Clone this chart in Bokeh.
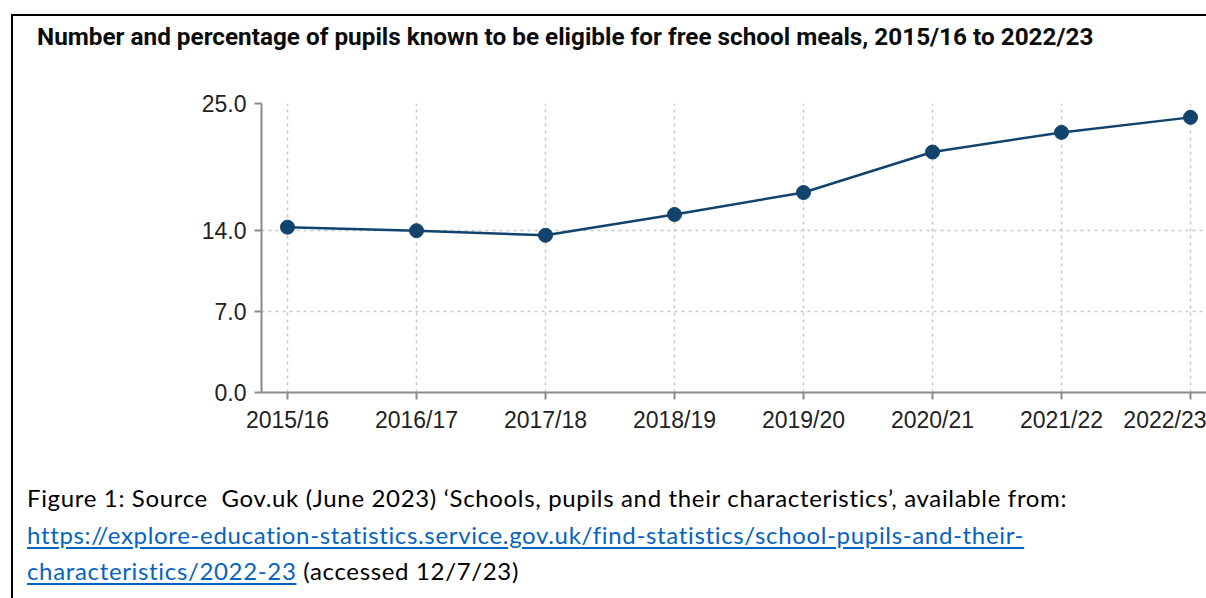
from bokeh.plotting import figure
from bokeh.models import Range1d, FixedTicker, NumeralTickFormatter, Div
from bokeh.layouts import column
from bokeh.embed import file_html
from bokeh.resources import INLINE

# ---- data ----
years = ["2015/16", "2016/17", "2017/18", "2018/19", "2019/20", "2020/21", "2021/22", "2022/23"]
fsm_pct = [14.3, 14.0, 13.6, 15.4, 17.3, 20.8, 22.5, 23.8]
y_ticks = [0.0, 7.0, 14.0, 25.0]

title_text = "Number and percentage of pupils known to be eligible for free school meals, 2015/16 to 2022/23"
caption_1 = "Figure 1: Source&nbsp; Gov.uk (June 2023) \u2018Schools, pupils and their characteristics\u2019, available from:"
caption_2 = "https://explore-education-statistics.service.gov.uk/find-statistics/school-pupils-and-their-"
caption_3a = "characteristics/2022-23"
caption_3b = "(accessed 12/7/23)"

xs = list(range(len(years)))

W, H = 1206, 598
OFF_X, OFF_Y = 13, 16          # page frame offset (margin + border)
CW = W - OFF_X                 # content width
FIG_TOP = 60                   # canvas y where figure starts
FIG_H = 400

p = figure(width=CW, height=FIG_H, output_backend="svg", toolbar_location=None,
           x_range=Range1d(-0.2016, 7.124), y_range=Range1d(0, 25),
           min_border_left=261 - OFF_X, min_border_right=0,
           min_border_top=103 - FIG_TOP, min_border_bottom=FIG_TOP + FIG_H - 392)
p.outline_line_color = None
p.background_fill_color = "white"
p.border_fill_color = "white"

AX = "#8a8a8a"
TXT = "#222222"
# y axis
p.yaxis.ticker = FixedTicker(ticks=y_ticks)
p.yaxis.formatter = NumeralTickFormatter(format="0.0")
p.yaxis.axis_line_color = AX
p.yaxis.axis_line_width = 2
p.yaxis.major_tick_line_color = AX
p.yaxis.major_tick_line_width = 2
p.yaxis.major_tick_out = 7
p.yaxis.major_tick_in = 0
p.yaxis.minor_tick_line_color = None
p.yaxis.major_label_text_font = "Liberation Sans"
p.yaxis.major_label_text_font_size = "23px"
p.yaxis.major_label_text_color = TXT
p.yaxis.major_label_standoff = 8

# x axis
p.xaxis.ticker = FixedTicker(ticks=xs)
p.xaxis.major_label_overrides = {i: y for i, y in zip(xs, years)}
p.xaxis.axis_line_color = AX
p.xaxis.axis_line_width = 2
p.xaxis.major_tick_line_color = AX
p.xaxis.major_tick_line_width = 2
p.xaxis.major_tick_out = 7
p.xaxis.major_tick_in = 0
p.xaxis.minor_tick_line_color = None
p.xaxis.major_label_text_font = "Liberation Sans"
p.xaxis.major_label_text_font_size = "23px"
p.xaxis.major_label_text_color = TXT
p.xaxis.major_label_standoff = 7

# grids
for g in (p.xgrid, p.ygrid):
    g.grid_line_color = "#c8c8c8"
    g.grid_line_dash = "3 4"
    g.grid_line_width = 1.5
p.xgrid.ticker = FixedTicker(ticks=xs)
p.ygrid.ticker = FixedTicker(ticks=y_ticks)

# series
BLUE = "#12436D"
p.line(xs, fsm_pct, line_color=BLUE, line_width=2.5)
p.scatter(xs, fsm_pct, size=14, fill_color=BLUE, line_color=BLUE)

# title
title_div = Div(
    text=(f'<div style="font-family: Roboto, sans-serif; font-weight: bold; font-size: 24.3px; '
          f'line-height: 24px; color: #0b0c0c; white-space: nowrap; padding-left: {37 - OFF_X}px; '
          f'padding-top: 9px;">{title_text}</div>'),
    width=CW, height=FIG_TOP - OFF_Y, margin=0)

LINK = "#0563C1"
cap_html = (
    f'<div style="font-family: Lato, sans-serif; font-size: 24px; letter-spacing: 0.66px; '
    f'line-height: 36.5px; color: black; '
    f'white-space: nowrap; padding-left: {27 - OFF_X}px; padding-top: 20px;">'
    f'{caption_1}<br>'
    f'<span style="color: {LINK}; text-decoration: underline; text-underline-offset: 3px;">{caption_2}</span><br>'
    f'<span style="color: {LINK}; text-decoration: underline; text-underline-offset: 3px;">{caption_3a}</span> {caption_3b}'
    f'</div>'
)
cap_div = Div(text=cap_html, width=CW, height=H - (FIG_TOP + FIG_H) + 10, margin=0)

layout = column(title_div, p, cap_div, margin=(14, 0, 0, 11), spacing=0,
                styles={"border-top": "2px solid black", "border-left": "2px solid black"})

open("out.html", "w").write(file_html(layout, INLINE))
